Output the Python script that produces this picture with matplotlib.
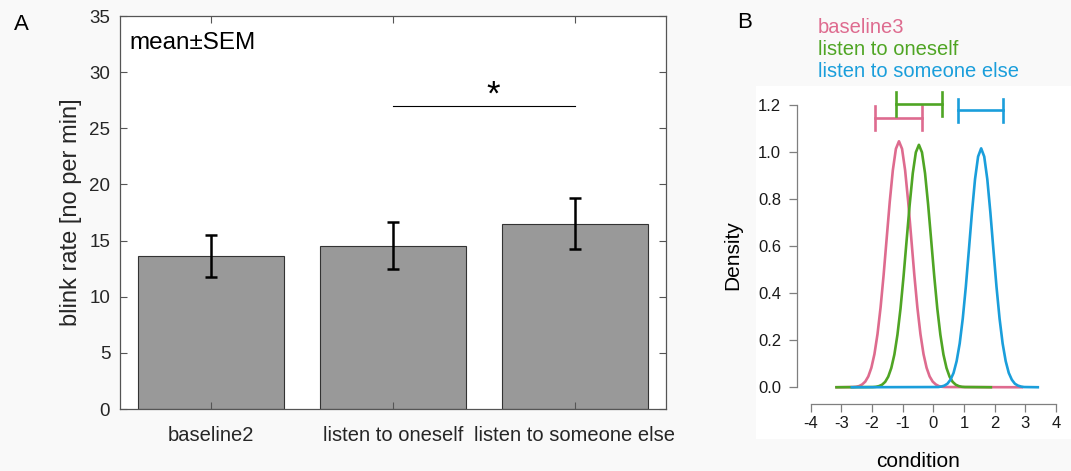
import numpy as np
import matplotlib
matplotlib.use("Agg")
import matplotlib.pyplot as plt
from matplotlib.patches import Rectangle

plt.rcParams['font.family'] = ['Liberation Sans', 'DejaVu Sans']
plt.rcParams['axes.unicode_minus'] = False

# panel A data
categories = ['baseline2', 'listen to oneself', 'listen to someone else']
blink_mean = [13.65, 14.55, 16.5]
blink_sem = [1.87, 2.08, 2.27]
sig_pair = [2, 3]
sig_level = 27.0

# panel B data (density curves)
pink_x = [-3.2, -2.62, -2.52, -2.42, -2.32, -2.22, -2.12, -2.02, -1.92, -1.82, -1.72, -1.62,
          -1.52, -1.42, -1.32, -1.22, -1.12, -1.02, -0.92, -0.82, -0.72, -0.62, -0.52, -0.42,
          -0.32, -0.22, -0.12, -0.02, 0.08, 0.18, 0.28, 0.38, 2.93]
pink_y = [0.0, 0.001, 0.002, 0.005, 0.012, 0.024, 0.046, 0.083, 0.141, 0.226, 0.339, 0.478,
          0.634, 0.789, 0.922, 1.013, 1.045, 1.013, 0.922, 0.789, 0.634, 0.478, 0.339, 0.226,
          0.141, 0.083, 0.046, 0.024, 0.012, 0.005, 0.002, 0.001, 0.0]
green_x = [-3.2, -1.97, -1.87, -1.77, -1.67, -1.57, -1.47, -1.37, -1.27, -1.17, -1.07, -0.97,
           -0.87, -0.77, -0.67, -0.57, -0.47, -0.37, -0.27, -0.17, -0.07, 0.03, 0.13, 0.23,
           0.33, 0.43, 0.53, 0.63, 0.73, 0.83, 0.93, 1.03, 1.92]
green_y = [0.0, 0.001, 0.002, 0.005, 0.011, 0.023, 0.045, 0.082, 0.139, 0.223, 0.334, 0.472,
           0.625, 0.777, 0.909, 0.998, 1.030, 0.998, 0.909, 0.777, 0.625, 0.472, 0.334, 0.223,
           0.139, 0.082, 0.045, 0.023, 0.011, 0.005, 0.002, 0.001, 0.0]
blue_x = [-2.7, 0.16, 0.26, 0.36, 0.46, 0.56, 0.66, 0.76, 0.86, 0.96, 1.06, 1.16, 1.26, 1.36,
          1.46, 1.56, 1.66, 1.76, 1.86, 1.96, 2.06, 2.16, 2.26, 2.36, 2.46, 2.56, 2.66, 2.76,
          2.86, 2.96, 3.45]
blue_y = [0.0, 0.001, 0.003, 0.007, 0.015, 0.032, 0.061, 0.111, 0.186, 0.292, 0.427, 0.584,
          0.743, 0.884, 0.980, 1.015, 0.980, 0.884, 0.743, 0.584, 0.427, 0.292, 0.186, 0.111,
          0.061, 0.032, 0.015, 0.007, 0.003, 0.001, 0.0]

# credible intervals drawn above the curves
interval_names = ['baseline3', 'listen to oneself', 'listen to someone else']
interval_lo = [-1.89, -1.22, 0.79]
interval_hi = [-0.36, 0.27, 2.28]
interval_level = [1.145, 1.203, 1.176]
colors = ['#de6b8f', '#4fa524', '#1a9edb']

fig = plt.figure(figsize=(10.71, 4.71), dpi=100, facecolor='#f9f9f9')

# white backdrop for panel B
fig.patches.append(Rectangle((0.7059, 0.0679), 0.2941, 0.7495, transform=fig.transFigure,
                             facecolor='white', edgecolor='none', zorder=-5))

# ---- panel A ----
axA = fig.add_axes([0.1120, 0.1316, 0.5098, 0.8344])
xpos = np.arange(1, len(categories) + 1)
axA.bar(xpos, blink_mean, width=0.8, color='#999999', edgecolor='#333333', linewidth=0.8)
axA.errorbar(xpos, blink_mean, yerr=blink_sem, fmt='none', ecolor='black',
             elinewidth=1.8, capsize=4, capthick=1.8)
axA.plot(sig_pair, [sig_level, sig_level], color='black', lw=0.8)
axA.text(np.mean(sig_pair) + 0.05, sig_level + 1.0, '*', ha='center', va='center', fontsize=25)
axA.text(0.018, 0.931, 'mean±SEM', transform=axA.transAxes, ha='left', va='center', fontsize=17.5)

axA.set_xlim(0.5, 3.5)
axA.set_ylim(0, 35)
axA.set_yticks(range(0, 36, 5))
axA.set_xticks(xpos)
axA.set_xticklabels(categories)
axA.tick_params(direction='in', top=True, right=True, length=5, color='#555555',
                labelcolor='#262626')
axA.tick_params(axis='y', labelsize=13.5, pad=7)
axA.tick_params(axis='x', labelsize=14.5, pad=12)
for s in axA.spines.values():
    s.set_color('#555555')
    s.set_linewidth(0.9)
axA.set_ylabel('blink rate [no per min]', fontsize=17, color='#262626')
axA.yaxis.set_label_coords(-0.07, 0.5)

fig.text(0.0196, 0.947, 'A', fontsize=16, ha='center', va='center')

# ---- panel B ----
axB = fig.add_axes([0.7442, 0.1423, 0.2502, 0.6752])
axB.set_facecolor('none')
for xs, ys, c in zip([pink_x, green_x, blue_x], [pink_y, green_y, blue_y], colors):
    axB.plot(xs, ys, color=c, lw=1.9, solid_capstyle='butt')

for lo, hi, lev, c in zip(interval_lo, interval_hi, interval_level, colors):
    axB.plot([lo, hi], [lev, lev], color=c, lw=1.9)
    axB.plot([lo, lo], [lev - 0.05, lev + 0.05], color=c, lw=1.9)
    axB.plot([hi, hi], [lev - 0.05, lev + 0.05], color=c, lw=1.9)

axB.set_xlim(-4.444, 4.294)
axB.set_ylim(-0.071, 1.280)
axB.spines['top'].set_visible(False)
axB.spines['right'].set_visible(False)
axB.spines['left'].set_bounds(0, 1.2)
axB.spines['bottom'].set_bounds(-4, 4)
for s in ['left', 'bottom']:
    axB.spines[s].set_color('#7f7f7f')
    axB.spines[s].set_linewidth(0.9)
axB.set_xticks(range(-4, 5))
axB.set_yticks([0.0, 0.2, 0.4, 0.6, 0.8, 1.0, 1.2])
axB.set_yticklabels(['%.1f' % v for v in [0.0, 0.2, 0.4, 0.6, 0.8, 1.0, 1.2]])
axB.tick_params(direction='out', length=5.5, color='#7f7f7f', labelsize=12,
                labelcolor='#1a1a1a', width=0.9)
axB.tick_params(axis='y', pad=6)
axB.tick_params(axis='x', pad=3.5)
axB.set_xlabel('condition', fontsize=15)
axB.xaxis.set_label_coords(0.45, -0.152)
axB.set_ylabel('Density', fontsize=15)
axB.yaxis.set_label_coords(-0.205, 0.4686)

for i, (name, c) in enumerate(zip(interval_names, colors)):
    fig.text(0.7638, 0.9406 - i * 0.0467, name, color=c, fontsize=14.5, ha='left', va='center')

fig.text(0.6956, 0.952, 'B', fontsize=16, ha='center', va='center')

fig.savefig('out.png', dpi=100, facecolor=fig.get_facecolor())
